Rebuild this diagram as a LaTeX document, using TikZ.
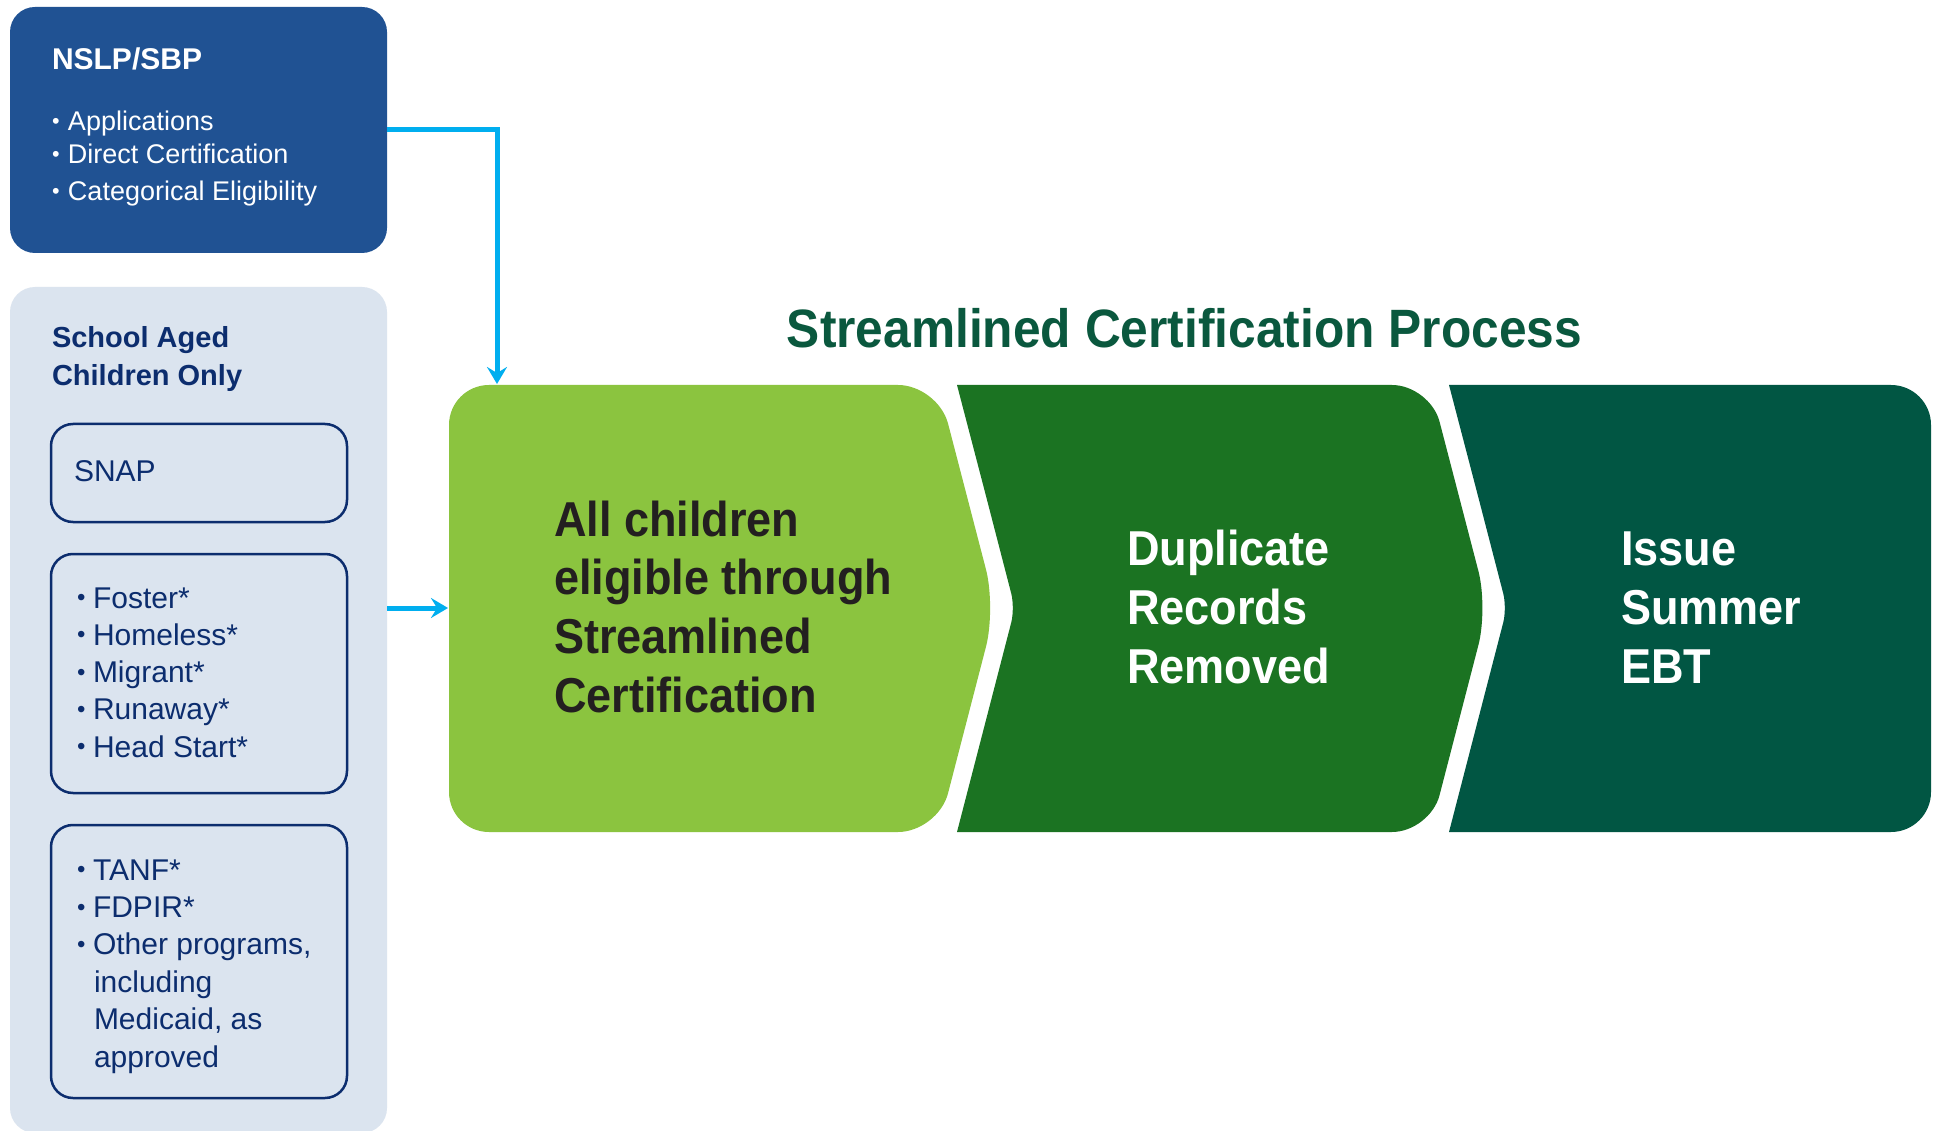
\documentclass[tikz,border=0pt]{standalone}
\usepackage{fontspec}
\usepackage{graphicx}
\setmainfont{Liberation Sans}
\newfontfamily\narrowfont{Liberation Sans}[FakeStretch=0.92]
\usetikzlibrary{arrows.meta}

\definecolor{nslpblue}{RGB}{32,82,147}
\definecolor{schoolgray}{RGB}{219,228,239}
\definecolor{navy}{RGB}{12,45,110}
\definecolor{arrowblue}{RGB}{0,174,239}
\definecolor{lightgreen}{RGB}{139,196,63}
\definecolor{midgreen}{RGB}{27,115,34}
\definecolor{darkgreen}{RGB}{1,86,67}
\definecolor{titlegreen}{RGB}{10,88,62}
\definecolor{ink}{RGB}{35,31,32}

\newcommand{\bul}{\makebox[16pt][l]{\raisebox{.08em}{\scalebox{.8}{•}}}}

\begin{document}
\begin{tikzpicture}[x=1pt,y=-1pt,>={Stealth[length=17pt,width=20pt,inset=6pt]},
    box node/.style={rectangle,inner sep=0pt,outer sep=0pt,minimum width=377pt,rounded corners=25pt},
    list node/.style={rectangle,draw=navy,line width=2.5pt,inner sep=0pt,outer sep=0pt,minimum width=296pt,rounded corners=22pt},
    text node/.style={anchor=base west,inner sep=0pt,outer sep=0pt},
    list text/.style={text node,text=navy,font=\fontsize{30}{36}\selectfont},
    step text/.style={text node,font=\narrowfont\bfseries\fontsize{49}{59}\selectfont},
    link/.style={->,draw=arrowblue,line width=5pt}]

            \useasboundingbox[fill=white] (0,0) rectangle (1939,1131);

            % left column
            \node[box node, fill=nslpblue, minimum height=246pt] (1) at (198.5,130) {};
            \node[box node, fill=schoolgray, minimum height=846pt] (2) at (198.5,710) {};
            \node[list node, minimum height=98pt] (3) at (199,473) {};
            \node[list node, minimum height=239pt] (4) at (199,673.5) {};
            \node[list node, minimum height=273pt] (5) at (199,961.5) {};

            \node[text node, text=white, font=\bfseries\fontsize{30}{36}\selectfont] (1-0) at (52,70) {NSLP/SBP};
            \node[text node, text=white, font=\fontsize{27}{33}\selectfont] (1-1) at (52,131) {\bul Applications};
            \node[text node, text=white, font=\fontsize{27}{33}\selectfont] (1-2) at (52,164) {\bul Direct Certification};
            \node[text node, text=white, font=\fontsize{27}{33}\selectfont] (1-3) at (52,201) {\bul Categorical Eligibility};

            \node[text node, text=navy, font=\bfseries\fontsize{29}{36}\selectfont] (2-1) at (52,348) {School Aged};
            \node[text node, text=navy, font=\bfseries\fontsize{29}{36}\selectfont] (2-2) at (52,386) {Children Only};

            \node[list text] (3-1) at (74,482) {SNAP};
            \foreach \t [count=\i] in {Foster*,Homeless*,Migrant*,Runaway*,Head Start*}
                \node[list text] (4-\i) at (77,608+37.3*\i-37.3) {\bul\t};
            \foreach \t [count=\i] in {TANF*,FDPIR*,{Other programs,}}
                \node[list text] (5-\i) at (77,880+37.4*\i-37.4) {\bul\t};
            \foreach \t [count=\i from 4] in {including,{Medicaid, as},approved}
                \node[list text] (5-\i) at (94,880+37.4*\i-37.4) {\t};

            % process chevrons
            \fill[lightgreen, rounded corners=40pt] (449,385) -- (938,385) -- (996,608) -- (938,832) -- (449,832) -- cycle;
            \fill[midgreen] (957,385) [sharp corners] -- (1200,385) [rounded corners=38pt] -- (1430,385) -- (1488,608)
                -- (1430,832) -- (1200,832) [sharp corners] -- (957,832) -- (986,720) [rounded corners=15pt]
                -- (1015,608) -- (986,496) [sharp corners] -- cycle;
            \fill[darkgreen] (1449,385) [sharp corners] -- (1700,385) [rounded corners=40pt] -- (1931,385)
                -- (1931,832) -- (1700,832) [sharp corners] -- (1449,832) -- (1478,720) [rounded corners=15pt]
                -- (1507,608) -- (1478,496) [sharp corners] -- cycle;

            \node[text node, anchor=base, text=titlegreen, font=\narrowfont\bfseries\fontsize{54}{60}\selectfont] (6) at (1184.5,348) {Streamlined Certification Process};

            \foreach \t [count=\i] in {All children,eligible through,Streamlined,Certification}
                \node[step text, text=ink] (7-\i) at (554,536+58.7*\i-58.7) {\t};
            \foreach \t [count=\i] in {Duplicate,Records,Removed}
                \node[step text, text=white] (8-\i) at (1127,565+59*\i-59) {\t};
            \foreach \t [count=\i] in {Issue,Summer,EBT}
                \node[step text, text=white] (9-\i) at (1621,565+59*\i-59) {\t};

            % connectors
            \coordinate (in top) at (497,384);
            \coordinate (in left) at (448,608);
            \draw[link] (1.east) -| (in top);
            \draw[link] (2.east |- in left) -- (in left);

            ;
        \end{tikzpicture}
\end{document}
